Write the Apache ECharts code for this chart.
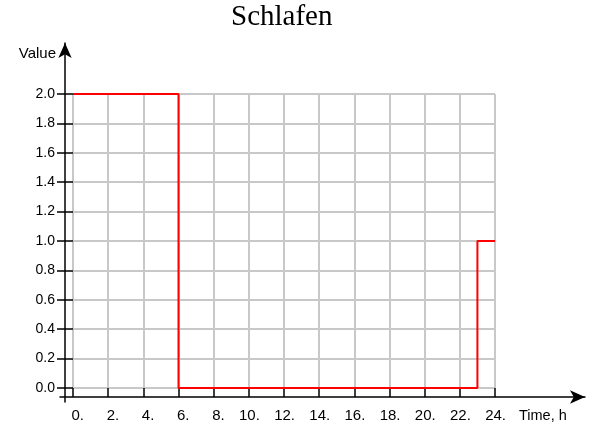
<!DOCTYPE html>
<html>
<head>
<meta charset="utf-8">
<script src="https://cdn.jsdelivr.net/npm/echarts@6/dist/echarts.min.js"></script>
<style>
html,body{margin:0;padding:0;background:#fff;}
#chart{width:598px;height:427px;}
</style>
</head>
<body>
<div id="chart"></div>
<script>
var titleText = 'Schlafen';
var xName = 'Time, h';
var yName = 'Value';
var hours = [0,1,2,3,4,5,6,7,8,9,10,11,12,13,14,15,16,17,18,19,20,21,22,23,24];
var values = [2,2,2,2,2,2,0,0,0,0,0,0,0,0,0,0,0,0,0,0,0,0,0,1,1];
var xMin = 0, xMax = 24, xStep = 2;
var yMin = 0, yMax = 2, yStep = 0.2;

var seriesData = hours.map(function (h, i) { return [h, values[i]]; });

var chart = echarts.init(document.getElementById('chart'));
var sans = 'Liberation Sans, Arial, sans-serif';
var gridColor = '#c8c8c8';
chart.setOption({
  animation: false,
  backgroundColor: '#fff',
  title: {
    text: titleText,
    left: 231, top: 3, padding: 0,
    textStyle: { fontFamily: 'Liberation Serif, Times New Roman, serif', fontSize: 29, fontWeight: 'normal', color: '#000' }
  },
  grid: [
    { left: 73, right: 103, top: 94, bottom: 39 },
    { left: 65, right: 100, top: 43, bottom: 25 },
    { left: 60, right: 13, top: 100, bottom: 30 }
  ],
  xAxis: [
    {
      gridIndex: 0, type: 'value', min: xMin, max: xMax, interval: xStep,
      axisLine: { show: false },
      axisTick: { show: true, inside: false, length: 9, lineStyle: { color: '#000', width: 1.5 } },
      splitLine: { show: true, lineStyle: { color: gridColor, width: 2 } },
      axisLabel: {
        show: true, margin: 20, align: 'right', padding: [0, -11, 0, 0],
        fontFamily: sans, fontSize: 15, color: '#000',
        formatter: function (v) { return v + '.'; }
      },
      name: xName, nameLocation: 'end', nameGap: 24,
      nameTextStyle: { fontFamily: sans, fontSize: 14.5, color: '#000', align: 'left', verticalAlign: 'top', padding: [20, 0, 0, 0] }
    },
    { gridIndex: 1, type: 'value', show: false },
    {
      gridIndex: 2, type: 'value', min: 0, max: 1,
      axisLine: { show: true, onZero: false, symbol: ['none', 'arrow'], symbolSize: [10, 15], lineStyle: { color: '#000', width: 1.5 } },
      axisTick: { show: false }, axisLabel: { show: false }, splitLine: { show: false }
    }
  ],
  yAxis: [
    {
      gridIndex: 0, type: 'value', min: yMin, max: yMax, interval: yStep,
      axisLine: { show: false },
      axisTick: { show: true, inside: false, length: 16, lineStyle: { color: '#000', width: 1.5 } },
      splitLine: { show: true, lineStyle: { color: gridColor, width: 2 } },
      axisLabel: {
        show: true, margin: 18, fontFamily: sans, fontSize: 14, color: '#000',
        formatter: function (v) { return v.toFixed(1); }
      }
    },
    {
      gridIndex: 1, type: 'value', min: 0, max: 1,
      axisLine: { show: true, onZero: false, symbol: ['none', 'arrow'], symbolSize: [10, 15], lineStyle: { color: '#000', width: 1.5 } },
      axisTick: { show: false }, axisLabel: { show: false }, splitLine: { show: false },
      name: yName, nameLocation: 'end', nameGap: -11,
      nameTextStyle: { fontFamily: sans, fontSize: 15, color: '#000', align: 'right', verticalAlign: 'middle', padding: [0, 9, 0, 0] }
    },
    { gridIndex: 2, type: 'value', show: false }
  ],
  series: [
    {
      type: 'line', xAxisIndex: 0, yAxisIndex: 0, step: 'end',
      data: seriesData, showSymbol: false, symbol: 'none',
      lineStyle: { color: '#ff0000', width: 2 }
    }
  ]
});
</script>
</body>
</html>
